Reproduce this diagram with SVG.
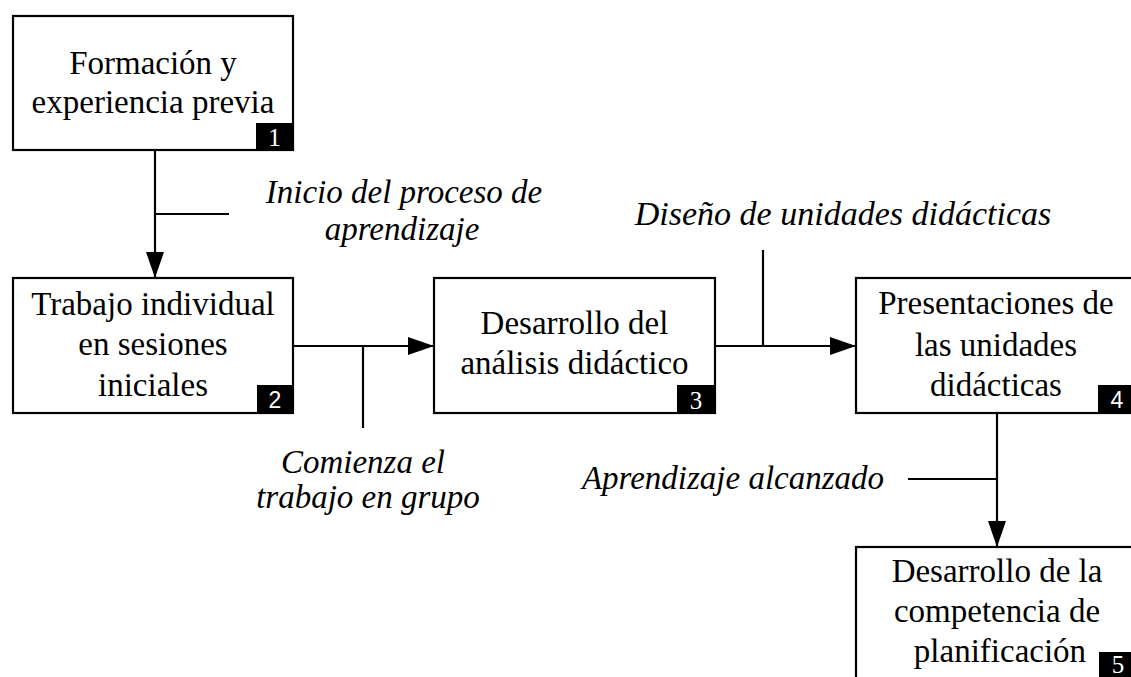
<svg xmlns="http://www.w3.org/2000/svg" width="1131" height="677" viewBox="0 0 1131 677">
<style>
.box{fill:#fff;stroke:#000;stroke-width:2.2}
.t{font-family:"Liberation Serif","Times New Roman",serif;font-size:33px;fill:#000;text-anchor:middle}
.l{font-family:"Liberation Serif","Times New Roman",serif;font-size:33px;font-style:italic;fill:#000;text-anchor:middle}
.badge{fill:#000}
.n{font-family:"Liberation Serif","Times New Roman",serif;font-size:25px;fill:#fff;text-anchor:middle}
.ns{font-family:"Liberation Sans",Arial,sans-serif;font-size:23px;fill:#fff;text-anchor:middle}
.c{stroke:#000;stroke-width:2.2;fill:none}
</style>
<defs>
<marker id="ah" markerWidth="26" markerHeight="20" refX="26" refY="10" orient="auto" markerUnits="userSpaceOnUse">
<path d="M0,1 L26,10 L0,19 Z" fill="#000"/>
</marker>
</defs>
<rect width="1131" height="677" fill="#fff"/>
<g id="connectors">
<line class="c" x1="155" y1="150" x2="155" y2="278" marker-end="url(#ah)"/>
<line class="c" x1="155" y1="214" x2="229" y2="214"/>
<line class="c" x1="293" y1="346" x2="434" y2="346" marker-end="url(#ah)"/>
<line class="c" x1="363" y1="346" x2="363" y2="428"/>
<line class="c" x1="715" y1="346" x2="856" y2="346" marker-end="url(#ah)"/>
<line class="c" x1="763" y1="250" x2="763" y2="346"/>
<line class="c" x1="997" y1="413" x2="997" y2="547" marker-end="url(#ah)"/>
<line class="c" x1="908" y1="479" x2="997" y2="479"/>
</g>
<g id="labels">
<text class="l" x="404" y="203">Inicio del proceso de</text>
<text class="l" x="402" y="240">aprendizaje</text>
<text class="l" x="843" y="225" style="font-size:34px">Diseño de unidades didácticas</text>
<text class="l" x="363" y="473">Comienza el</text>
<text class="l" x="368" y="508">trabajo en grupo</text>
<text class="l" x="733" y="489">Aprendizaje alcanzado</text>
</g>
<g id="node1">
<rect class="box" x="13" y="16" width="280" height="134"/>
<text class="t" x="153" y="74">Formación y</text>
<text class="t" x="153" y="113">experiencia previa</text>
<rect class="badge" x="256" y="123" width="37" height="27"/>
<text class="n" x="274.5" y="146">1</text>
</g>
<g id="node2">
<rect class="box" x="13" y="278" width="280" height="135"/>
<text class="t" x="153" y="315">Trabajo individual</text>
<text class="t" x="153" y="355">en sesiones</text>
<text class="t" x="153" y="396">iniciales</text>
<rect class="badge" x="257" y="385" width="36" height="28"/>
<text class="ns" x="275" y="408">2</text>
</g>
<g id="node3">
<rect class="box" x="434" y="278" width="281" height="135"/>
<text class="t" x="574.5" y="334">Desarrollo del</text>
<text class="t" x="574.5" y="374">análisis didáctico</text>
<rect class="badge" x="677" y="385" width="38" height="28"/>
<text class="n" x="696" y="409">3</text>
</g>
<g id="node4">
<rect class="box" x="856" y="278" width="282" height="135"/>
<text class="t" x="996" y="314">Presentaciones de</text>
<text class="t" x="996" y="356">las unidades</text>
<text class="t" x="996" y="396">didácticas</text>
<rect class="badge" x="1098" y="385" width="40" height="28"/>
<text class="ns" x="1117" y="408">4</text>
</g>
<g id="node5">
<rect class="box" x="856" y="547" width="282" height="140"/>
<text class="t" x="997" y="582">Desarrollo de la</text>
<text class="t" x="997" y="622">competencia de</text>
<text class="t" x="1000" y="662">planificación</text>
<rect class="badge" x="1099" y="652" width="40" height="30"/>
<text class="n" x="1118" y="673">5</text>
</g>
</svg>
